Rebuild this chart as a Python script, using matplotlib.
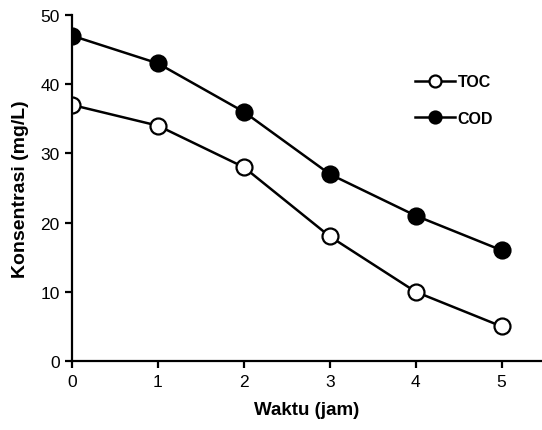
import matplotlib
matplotlib.use("Agg")
import matplotlib.pyplot as plt

plt.rcParams['font.family'] = ['Liberation Sans', 'DejaVu Sans']

# jam
waktu = [0, 1, 2, 3, 4, 5]
toc = [37, 34, 28, 18, 10, 5]
cod = [47, 43, 36, 27, 21, 16]

fig = plt.figure(figsize=(5.42, 4.31), dpi=100)
ax = fig.add_axes([0.133, 0.160, 0.867, 0.803])

ax.plot(waktu, toc, '-o', color='black', mfc='white', mec='black',
        ms=11.5, mew=1.6, lw=1.8, label='TOC')
ax.plot(waktu, cod, '-o', color='black', mfc='black', mec='black',
        ms=11.5, mew=1.6, lw=1.8, label='COD')

ax.set_xlim(0, 5.47)
ax.set_ylim(0, 50)
ax.set_xticks(waktu)
ax.set_yticks([0, 10, 20, 30, 40, 50])
ax.spines['top'].set_visible(False)
ax.spines['right'].set_visible(False)
ax.spines['left'].set_linewidth(1.6)
ax.spines['bottom'].set_linewidth(1.6)
ax.tick_params(direction='out', length=5, width=1.6, labelsize=12.5, pad=4)
for c in ax.get_xticklines() + ax.get_yticklines():
    c.set_clip_on(False)

ax.set_xlabel('Waktu (jam)', fontsize=13.5, fontweight='bold', labelpad=9)
ax.set_ylabel('Konsentrasi (mg/L)', fontsize=14, fontweight='bold', labelpad=8)

ax.legend(loc='upper left', bbox_to_anchor=(0.70, 0.87), frameon=False,
          prop={'size': 11.5, 'weight': 'bold'}, markerscale=0.75,
          handlelength=2.5, handletextpad=0.15, labelspacing=1.35)

fig.savefig('out.png', dpi=100)
